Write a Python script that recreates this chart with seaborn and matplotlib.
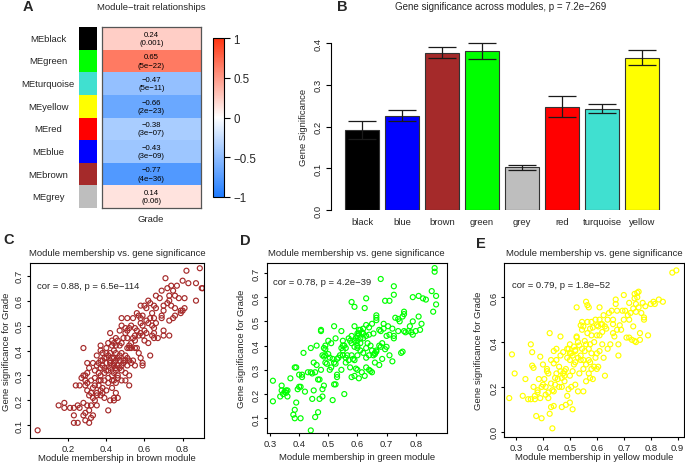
import numpy as np
import pandas as pd
import matplotlib
matplotlib.use("Agg")
import matplotlib.pyplot as plt
import seaborn as sns
from matplotlib.colors import LinearSegmentedColormap, ListedColormap

sns.set_theme(style="ticks")
plt.rcParams['font.family'] = ['Liberation Sans', 'DejaVu Sans']
plt.rcParams['axes.unicode_minus'] = True
plt.rcParams['axes.edgecolor'] = 'black'
plt.rcParams['axes.linewidth'] = 0.8

# ---------------- data ----------------
heat_modules = ["black", "green", "turquoise", "yellow", "red", "blue", "brown", "grey"]
heat_cor = [0.24, 0.65, -0.47, -0.66, -0.38, -0.43, -0.77, 0.14]
heat_p = ["0.001", "5e−22", "5e−11", "2e−23", "3e−07", "3e−09", "4e−36", "0.06"]
heat_trait = "Grade"

module_colors = {"black": "#000000", "blue": "#0000FF", "brown": "#A52A2A",
                 "green": "#00FF00", "grey": "#BEBEBE", "red": "#FF0000",
                 "turquoise": "#40E0D0", "yellow": "#FFFF00"}

bar_modules = ["black", "blue", "brown", "green", "grey", "red", "turquoise", "yellow"]
bar_gs = [0.191, 0.226, 0.377, 0.381, 0.102, 0.247, 0.243, 0.365]
bar_se = [0.021, 0.014, 0.013, 0.019, 0.005, 0.025, 0.010, 0.018]

brown_pts = [
    (.89,.73),(.82,.72),(.71,.69),(.80,.68),(.83,.67),(.87,.67),(.90,.65),(.905,.65),(.77,.66),(.74,.66),
    (.72,.65),(.69,.64),(.66,.62),(.68,.61),(.76,.62),(.75,.64),(.78,.61),(.81,.61),(.87,.60),(.73,.60),
    (.62,.60),(.63,.59),
    (.60,.58),(.58,.58),(.61,.57),(.65,.58),(.66,.57),(.70,.58),(.72,.59),(.74,.58),(.76,.57),(.79,.55),
    (.81,.57),(.69,.54),(.69,.53),(.73,.52),(.75,.53),(.66,.51),(.65,.53),(.64,.55),(.63,.53),(.59,.54),
    (.58,.53),(.56,.55),(.57,.54),(.54,.53),(.51,.53),(.48,.53),(.61,.52),(.62,.51),(.64,.50),(.65,.49),
    (.59,.50),(.58,.51),(.55,.49),(.53,.50),(.52,.49),(.56,.48),(.51,.48),(.50,.49),(.48,.50),(.79,.56),
    (.80,.56),(.76,.54),(.73,.62),(.70,.56),
    (.70,.48),(.70,.46),(.73,.46),(.65,.47),(.64,.46),(.65,.45),(.61,.47),(.59,.46),(.60,.44),(.62,.43),
    (.58,.47),(.57,.46),(.55,.46),(.54,.45),(.53,.43),(.51,.45),(.52,.42),(.50,.47),(.49,.45),(.48,.43),
    (.47,.42),(.46,.44),(.45,.45),(.44,.43),(.45,.42),(.43,.42),(.42,.47),(.47,.48),(.40,.41),(.41,.43),
    (.37,.42),(.28,.41),(.51,.41),(.52,.41),(.53,.41),(.55,.41),(.56,.41),(.57,.39),(.58,.37),(.59,.35),
    (.59,.34),(.63,.38),(.55,.44),(.60,.48),(.67,.45),(.43,.44),
    (.37,.40),(.38,.39),(.40,.39),(.42,.39),(.44,.40),(.45,.39),(.35,.38),(.37,.36),(.38,.36),(.40,.35),
    (.42,.36),(.44,.37),(.45,.36),(.47,.38),(.49,.36),(.51,.37),(.52,.36),(.54,.36),(.33,.35),(.35,.34),
    (.37,.33),(.38,.34),(.40,.32),(.42,.33),(.44,.34),(.45,.32),(.47,.33),(.49,.35),(.51,.34),(.53,.35),
    (.55,.34),(.30,.35),(.31,.33),(.34,.32),(.36,.31),(.37,.30),(.39,.31),(.41,.32),(.43,.30),(.44,.31),
    (.46,.30),(.48,.32),(.50,.31),(.52,.30),(.44,.35),(.45,.33),(.43,.34),(.28,.30),(.29,.30),(.30,.31),
    (.39,.37),(.41,.38),(.43,.37),(.46,.37),(.48,.39),(.50,.38),(.46,.34),(.48,.34),(.39,.33),(.36,.35),
    (.50,.36),(.47,.36),(.42,.35),(.40,.37),
    (.27,.29),(.29,.28),(.30,.27),(.32,.28),(.34,.29),(.36,.28),(.37,.28),(.39,.28),(.41,.27),(.43,.28),
    (.44,.28),(.46,.29),(.48,.28),(.50,.28),(.24,.26),(.26,.26),(.29,.26),(.30,.24),(.33,.25),(.35,.23),
    (.37,.24),(.38,.23),(.40,.24),(.43,.25),(.45,.23),(.44,.21),(.46,.21),(.44,.20),(.42,.20),(.39,.21),
    (.37,.22),(.31,.22),(.33,.21),(.35,.22),(.41,.16),(.52,.26),(.34,.26),(.36,.26),(.41,.29),(.45,.27),
    (.32,.23),(.38,.25),
    (.15,.18),(.18,.19),(.18,.17),(.21,.17),(.23,.14),(.23,.17),(.25,.18),(.26,.17),(.23,.11),(.25,.11),
    (.28,.14),(.29,.15),(.31,.16),(.32,.18),(.30,.18),(.28,.19),(.29,.12),(.31,.11),(.32,.13),(.33,.14),
    (.35,.18),(.34,.20),(.04,.08),
]

green_pts = [
    (.865,.72),(.865,.705),(.68,.675),(.725,.645),(.63,.595),(.725,.61),(.58,.58),(.59,.56),(.695,.585),(.71,.585),
    (.79,.60),(.81,.605),(.825,.595),(.835,.59),(.855,.625),(.87,.605),(.87,.57),(.86,.54),(.625,.555),(.76,.54),
    (.76,.53),(.755,.52),(.74,.51),(.73,.515),(.79,.50),(.81,.52),(.82,.49),(.815,.465),(.78,.48),(.775,.46),
    (.765,.455),(.79,.445),(.785,.455),(.76,.46),(.74,.46),(.725,.44),(.725,.43),(.71,.445),(.705,.48),(.69,.49),
    (.69,.47),(.68,.46),(.665,.525),(.665,.515),(.665,.505),(.65,.49),(.64,.475),(.63,.485),(.62,.47),(.615,.455),
    (.605,.465),(.60,.45),(.60,.44),(.595,.43),(.59,.42),(.61,.41),(.62,.43),(.635,.41),(.645,.40),(.65,.38),
    (.66,.37),(.665,.375),(.675,.40),(.68,.395),(.685,.41),(.695,.385),(.70,.395),(.71,.36),(.72,.335),(.75,.37),
    (.755,.375),(.685,.345),(.675,.32),(.66,.33),(.64,.36),(.63,.35),(.62,.37),(.61,.38),(.60,.39),(.59,.395),
    (.58,.41),(.575,.42),(.57,.43),(.565,.36),(.57,.34),(.58,.36),(.59,.34),(.595,.305),(.60,.30),(.615,.29),
    (.63,.31),(.64,.30),(.645,.295),(.65,.29),(.625,.275),(.605,.265),(.58,.27),(.59,.275),(.575,.31),(.56,.33),
    (.55,.36),(.545,.39),(.55,.40),(.55,.42),(.545,.46),(.52,.48),(.525,.43),(.51,.41),(.50,.42),(.49,.40),
    (.49,.385),(.50,.365),(.49,.36),(.485,.355),(.48,.36),(.505,.35),(.515,.345),(.52,.33),(.525,.325),(.53,.28),
    (.53,.27),(.52,.24),(.525,.24),(.51,.31),(.505,.30),(.495,.325),(.49,.33),(.475,.30),(.47,.26),(.465,.26),
    (.46,.32),(.46,.40),(.475,.46),(.475,.465),(.485,.39),(.44,.39),(.45,.33),(.455,.29),(.445,.285),(.44,.29),
    (.43,.29),(.415,.37),(.41,.28),(.41,.27),(.405,.23),(.395,.22),(.42,.21),(.45,.215),(.445,.18),(.47,.18),
    (.48,.22),(.485,.235),(.515,.175),(.555,.20),(.455,.105),(.465,.125),(.44,.05),(.405,.10),(.385,.10),(.38,.115),
    (.385,.135),(.39,.165),(.385,.31),(.39,.31),(.37,.265),(.36,.19),(.355,.205),(.35,.21),(.345,.20),(.34,.215),
    (.34,.235),(.335,.19),(.355,.215),(.36,.215),(.31,.255),(.31,.17),(.40,.23),(.40,.28),(.48,.19),(.63,.39),
    (.56,.39),(.555,.40),(.54,.36),(.535,.35),(.53,.345),(.585,.345),(.60,.36),(.605,.45),(.61,.43),(.60,.42),
    (.63,.44),(.64,.445),(.655,.45),(.675,.465),(.70,.44),(.72,.47),(.745,.50),(.80,.46),(.60,.40),(.655,.36),
    (.66,.365),(.665,.38),(.55,.38),(.56,.35),(.545,.30),(.61,.465),(.62,.45),(.58,.44),(.59,.48),
]

yellow_pts = [
    (.275,.15),(.285,.345),(.295,.26),(.325,.16),(.335,.235),(.345,.145),(.355,.145),(.355,.39),(.36,.355),(.36,.295),
    (.365,.285),(.365,.20),(.37,.145),(.37,.16),(.375,.07),(.38,.175),(.38,.185),(.385,.235),(.39,.15),(.39,.335),
    (.395,.06),(.395,.20),(.40,.21),(.40,.30),(.405,.235),(.41,.165),(.415,.28),(.415,.27),(.42,.175),(.42,.15),
    (.425,.08),(.425,.44),(.43,.11),(.43,.215),(.435,.015),(.435,.185),(.44,.305),(.44,.36),(.44,.115),(.445,.24),
    (.445,.21),(.45,.37),(.45,.32),(.455,.235),(.46,.20),(.46,.29),(.465,.425),(.465,.27),(.47,.11),(.47,.24),
    (.475,.26),(.475,.355),(.48,.27),(.48,.25),(.48,.225),(.485,.12),(.485,.28),(.49,.33),(.49,.16),(.495,.19),
    (.495,.37),(.50,.13),(.50,.32),(.50,.39),(.505,.35),(.505,.20),(.51,.34),(.51,.27),(.515,.30),(.515,.38),
    (.52,.21),(.52,.365),(.525,.555),(.525,.425),(.525,.42),(.53,.33),(.53,.18),(.535,.385),(.535,.26),(.54,.32),
    (.54,.475),(.545,.455),(.545,.49),(.545,.37),(.55,.18),(.55,.28),(.555,.405),(.555,.36),(.56,.58),(.56,.225),
    (.56,.39),(.565,.49),(.565,.44),(.565,.565),(.57,.555),(.57,.32),(.57,.26),(.575,.31),(.575,.24),(.575,.39),
    (.58,.49),(.58,.43),(.58,.35),(.585,.235),(.585,.465),(.59,.40),(.59,.29),(.595,.50),(.595,.33),(.60,.43),
    (.60,.28),(.60,.475),(.605,.29),(.605,.47),(.61,.555),(.61,.50),(.61,.36),(.615,.48),(.62,.48),(.62,.445),
    (.625,.52),(.625,.33),(.63,.25),(.63,.47),(.635,.46),(.64,.37),(.64,.50),(.645,.53),(.65,.39),(.655,.54),
    (.66,.50),(.66,.44),(.665,.425),(.67,.57),(.67,.59),(.675,.54),(.675,.455),(.68,.34),(.68,.39),(.685,.475),
    (.69,.455),(.695,.54),(.70,.61),(.70,.50),(.705,.54),(.71,.42),(.715,.52),(.72,.575),(.72,.50),(.725,.53),
    (.73,.41),(.735,.47),(.735,.55),(.74,.595),(.74,.615),(.745,.57),(.745,.535),(.75,.62),(.75,.60),(.755,.625),
    (.755,.555),(.76,.44),(.76,.41),(.765,.53),(.77,.575),(.775,.50),(.775,.51),(.78,.56),(.79,.43),(.80,.57),
    (.81,.58),(.815,.57),(.83,.59),(.845,.58),(.88,.71),(.895,.72),(.74,.405),(.745,.40),(.72,.42),(.66,.48),
    (.55,.47),(.575,.46),(.52,.36),(.50,.35),(.49,.37),(.465,.34),(.53,.40),(.54,.34),(.55,.32),(.52,.31),
    (.50,.25),(.47,.20),(.44,.18),(.41,.20),(.45,.26),(.42,.26),(.43,.32),(.56,.30),(.60,.35),(.62,.39),
    (.57,.37),(.58,.28),(.51,.10),(.61,.43),
]

scatter_panels = [
    ("brown", brown_pts, "cor = 0.88, p = 6.5e−114", [0.1, 0.2, 0.3, 0.4, 0.5, 0.6, 0.7], [0.2, 0.4, 0.6, 0.8]),
    ("green", green_pts, "cor = 0.78, p = 4.2e−39", [0.1, 0.2, 0.3, 0.4, 0.5, 0.6, 0.7], [0.3, 0.4, 0.5, 0.6, 0.7, 0.8]),
    ("yellow", yellow_pts, "cor = 0.79, p = 1.8e−52", [0.0, 0.2, 0.4, 0.6], [0.3, 0.4, 0.5, 0.6, 0.7, 0.8, 0.9]),
]

# ---------------- figure ----------------
W, H = 685, 464
fig = plt.figure(figsize=(W / 100, H / 100), dpi=100)

def rect(l, t, r, b):
    return [l / W, 1 - b / H, (r - l) / W, (b - t) / H]

def fx(x):
    return x / W

def fy(y):
    return 1 - y / H

FS = 6.8

# ---- Panel A: heatmap ----
cmap = LinearSegmentedColormap.from_list("bwr_wgcna", ["#1E7BFF", "#FFFFFF", "#FF3410"])
axA = fig.add_axes(rect(102, 28, 201, 209))
cax = fig.add_axes(rect(213, 39, 224, 198))
axS = fig.add_axes(rect(79, 28, 97, 209))

row_labels = ["ME" + m for m in heat_modules]
dfA = pd.DataFrame({heat_trait: heat_cor}, index=row_labels)
annot = np.array([[f"{c:.2f}".replace("-", "−") + f"\n({p})"] for c, p in zip(heat_cor, heat_p)])
sns.heatmap(dfA, ax=axA, cmap=cmap, vmin=-1, vmax=1, annot=annot, fmt="",
            annot_kws={"fontsize": 5.6, "color": "black", "linespacing": 1.25},
            cbar_ax=cax, xticklabels=False, yticklabels=False)
for s in axA.spines.values():
    s.set_visible(True)
    s.set_color("#555555")
    s.set_linewidth(0.9)
axA.tick_params(left=False, bottom=False)
axA.set_xlabel("")
axA.set_ylabel("")

cb = axA.collections[0].colorbar
cb.set_ticks([-1, -0.5, 0, 0.5, 1])
cb.set_ticklabels(["−1", "−0.5", "0", "0.5", "1"])
cb.outline.set_edgecolor("black")
cb.outline.set_linewidth(0.8)
cax.tick_params(labelsize=8.3, length=4.5, width=0.8, pad=2, color="black", right=True)

dfS = pd.DataFrame({"c": list(range(len(heat_modules)))}, index=row_labels)
sns.heatmap(dfS, ax=axS, cmap=ListedColormap([module_colors[m] for m in heat_modules]),
            vmin=-0.5, vmax=len(heat_modules) - 0.5, cbar=False,
            xticklabels=False, yticklabels=row_labels)
axS.set_ylabel("")
axS.set_xlabel("")
axS.tick_params(axis="y", length=0, pad=22.3, labelsize=FS, rotation=0)
for lbl in axS.get_yticklabels():
    lbl.set_ha("center")

fig.text(fx(151), fy(7), "Module−trait relationships", fontsize=FS, ha="center", va="center")
fig.text(fx(151), fy(220), heat_trait, fontsize=FS, ha="center", va="center")

# ---- Panel B: bar chart ----
axB = fig.add_axes(rect(331, 35, 670, 211))
sns.barplot(x=bar_modules, y=bar_gs, hue=bar_modules, palette=module_colors, legend=False,
            ax=axB, width=0.85, saturation=1, edgecolor="#333333", linewidth=0.8, errorbar=None)
axB.errorbar(range(len(bar_modules)), bar_gs, yerr=bar_se, fmt="none", ecolor="#1a1a1a",
             elinewidth=0.9, capsize=10, capthick=0.9)
axB.set_xlim(-0.775, 7.7)
axB.set_ylim(0, 0.4216)
axB.set_yticks([0.0, 0.1, 0.2, 0.3, 0.4])
axB.set_yticklabels(["0.0", "0.1", "0.2", "0.3", "0.4"], rotation=90, va="center")
axB.spines[["top", "right", "bottom"]].set_visible(False)
axB.spines["left"].set_bounds(0, 0.4)
axB.tick_params(axis="y", length=3.6, width=0.8, pad=2.2, labelsize=FS, color="black")
axB.tick_params(axis="x", length=0, pad=5, labelsize=FS)
axB.set_ylabel("Gene Significance", fontsize=FS)
axB.yaxis.set_label_coords((308 - 331) / (670 - 331), (211 - 127.5) / (211 - 35))
fig.text(fx(501), fy(7), "Gene significance across modules, p = 7.2e−269", fontsize=FS + 0.2,
         ha="center", va="center")

# ---- Panels C, D, E: scatter ----
geoms = [
    dict(box=(30, 264, 204, 439.3), xlim=(0.0, 0.912), ylim=(0.048, 0.751), ylab_x=7, xlab_y=459, txt=(37, 287)),
    dict(box=(266.7, 264, 446.7, 434.3), xlim=(0.2887, 0.9064), ylim=(0.038, 0.741), ylab_x=242, xlab_y=458, txt=(273, 283)),
    dict(box=(504.3, 264, 684.3, 438.3), xlim=(0.2566, 0.9245), ylim=(-0.025, 0.753), ylab_x=479, xlab_y=458, txt=(512, 285)),
]
for (name, pts, cortxt, yt, xt), g in zip(scatter_panels, geoms):
    l, t, r, b = g["box"]
    ax = fig.add_axes(rect(l, t, r, b))
    xs = [p[0] for p in pts]
    ys = [p[1] for p in pts]
    sns.scatterplot(x=xs, y=ys, ax=ax, marker="o", s=13, facecolor="none",
                    edgecolor=module_colors[name], linewidth=0.85)
    ax.set_xlim(*g["xlim"])
    ax.set_ylim(*g["ylim"])
    ax.set_xticks(xt)
    ax.set_xticklabels([f"{v:.1f}" for v in xt])
    ax.set_yticks(yt)
    ax.set_yticklabels([f"{v:.1f}" for v in yt], rotation=90, va="center")
    for s in ax.spines.values():
        s.set_visible(True)
        s.set_color("black")
        s.set_linewidth(0.8)
    ax.tick_params(length=2.5, width=0.8, pad=1.8, labelsize=FS, color="black")
    ax.set_xlabel(f"Module membership in {name} module", fontsize=FS)
    ax.set_ylabel("Gene significance for Grade", fontsize=FS)
    ax.xaxis.set_label_coords(0.5, (b - g["xlab_y"]) / (b - t))
    ax.xaxis.label.set_va("center")
    ax.yaxis.set_label_coords((g["ylab_x"] - l) / (r - l), 0.5)
    ax.yaxis.label.set_va("center")
    tx, ty = g["txt"]
    ax.text((tx - l) / (r - l), (b - ty) / (b - t), cortxt, transform=ax.transAxes,
            fontsize=FS, ha="left", va="center")
    fig.text(fx((l + r) / 2), fy(254), "Module membership vs. gene significance",
             fontsize=FS, ha="center", va="center")

# ---- panel letters ----
for letter, (x, y) in zip("ABCDE", [(28, 7), (342, 7), (9, 240), (245, 241), (481, 244)]):
    fig.text(fx(x), fy(y), letter, fontsize=10.5, fontweight="bold", ha="center", va="center")

fig.savefig("out.png", dpi=100)
